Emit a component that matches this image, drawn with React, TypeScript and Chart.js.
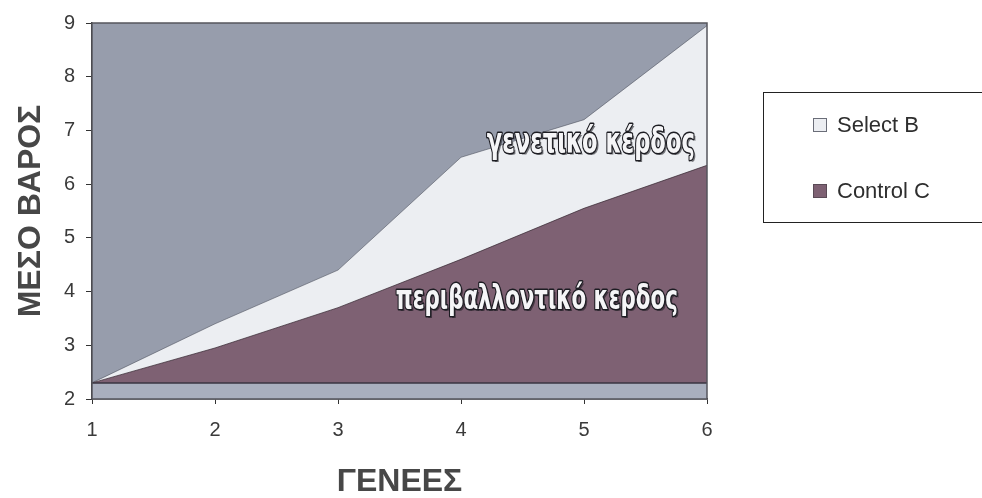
import React, { useEffect, useRef } from "react";
import { Chart, registerables } from "chart.js";

Chart.register(...registerables);

// ---- data ----
const generations = [1, 2, 3, 4, 5, 6];
const selectB = [2.3, 3.4, 4.4, 6.5, 7.2, 8.95];
const controlC = [2.3, 2.95, 3.7, 4.6, 5.55, 6.35];
const baseline = 2.3;
const yMin = 2;
const yMax = 9;
const xMin = 1;
const xMax = 6;
const seriesLabels = ["Select B", "Control C"];
const yTitle = "ΜΕΣΟ ΒΑΡΟΣ";
const xTitle = "ΓΕΝΕΕΣ";
const annotationTexts = ["γενετικό κέρδος", "περιβαλλοντικό κερδος"];

// ---- styles ----
const BG = "#979dac";
const STRIP = "#a9afbe";
const SELECT_COLOR = "#eceef2";
const CONTROL_COLOR = "#7e6173";
const AXIS_COLOR = "#333333";
const TEXT_COLOR = "#3a3a3a";
const TITLE_COLOR = "#474747";
const FONT = '"Liberation Sans", Arial, sans-serif';
const ANN_FONT = '"DejaVu Sans Condensed", "DejaVu Sans", sans-serif';

function drawOutlinedText(
  ctx: CanvasRenderingContext2D,
  text: string,
  left: number,
  baselineY: number,
  size: number,
  targetWidth: number
) {
  ctx.save();
  ctx.font = `bold ${size}px ${ANN_FONT}`;
  const w = ctx.measureText(text).width;
  const sx = targetWidth / w;
  ctx.translate(left, baselineY);
  ctx.scale(sx, 1);
  ctx.textAlign = "left";
  ctx.textBaseline = "alphabetic";
  ctx.lineJoin = "round";
  // shadow
  ctx.fillStyle = "rgba(20,20,25,0.55)";
  ctx.fillText(text, 2 / sx, 2);
  ctx.strokeStyle = "#1c1c22";
  ctx.lineWidth = 3;
  ctx.strokeText(text, 0, 0);
  ctx.fillStyle = "#f5f5f7";
  ctx.fillText(text, 0, 0);
  ctx.restore();
}

const customPlugin = {
  id: "customDraw",
  beforeDatasetsDraw(chart: any) {
    const { ctx, chartArea, scales } = chart;
    const { left, right, top, bottom } = chartArea;
    ctx.save();
    ctx.fillStyle = BG;
    ctx.fillRect(left, top, right - left, bottom - top);
    const yb = scales.y.getPixelForValue(baseline);
    const y0 = scales.y.getPixelForValue(yMin);
    ctx.fillStyle = STRIP;
    ctx.fillRect(left, yb, right - left, y0 - yb);
    ctx.restore();
  },
  afterDatasetsDraw(chart: any) {
    const { ctx, chartArea, scales } = chart;
    const { left, right, top, bottom } = chartArea;
    const xs = scales.x;
    const ys = scales.y;
    ctx.save();
    // baseline line
    const yb = ys.getPixelForValue(baseline);
    ctx.strokeStyle = "#3a3540";
    ctx.lineWidth = 1.5;
    ctx.beginPath();
    ctx.moveTo(left, yb);
    ctx.lineTo(right, yb);
    ctx.stroke();
    // frame
    ctx.strokeStyle = "#55555c";
    ctx.lineWidth = 1.5;
    ctx.strokeRect(left, top, right - left, bottom - top);

    // annotations
    drawOutlinedText(
      ctx,
      annotationTexts[0],
      xs.getPixelForValue(4.21),
      ys.getPixelForValue(6.58),
      36,
      208
    );
    drawOutlinedText(
      ctx,
      annotationTexts[1],
      xs.getPixelForValue(3.47),
      ys.getPixelForValue(3.67),
      33,
      282
    );
    ctx.restore();
  },
  afterDraw(chart: any) {
    const { ctx, chartArea } = chart;
    const { left, right, top, bottom } = chartArea;
    ctx.save();
    // axis titles
    ctx.fillStyle = TITLE_COLOR;
    ctx.font = `bold 32px ${FONT}`;
    ctx.textAlign = "center";
    ctx.textBaseline = "middle";
    ctx.save();
    ctx.translate(30, (top + bottom) / 2);
    ctx.rotate(-Math.PI / 2);
    ctx.fillText(yTitle, 0, 1);
    ctx.restore();
    ctx.fillText(xTitle, (left + right) / 2, bottom + 83);

    // legend box
    const lx = right + 56;
    const ly = top + 69;
    ctx.strokeStyle = "#222";
    ctx.lineWidth = 1;
    ctx.strokeRect(lx + 0.5, ly + 0.5, 400, 130);
    const items = chart.data.datasets.map((d: any) => ({
      label: d.label,
      color: d.backgroundColor,
    }));
    ctx.font = `22px ${FONT}`;
    ctx.textAlign = "left";
    ctx.textBaseline = "middle";
    items.forEach((it: any, i: number) => {
      const cy = ly + 33 + i * 66;
      const mx = lx + 50;
      ctx.fillStyle = it.color;
      ctx.fillRect(mx, cy - 7, 14, 14);
      ctx.strokeStyle = i === 0 ? "#6a6d78" : "#5a4a56";
      ctx.lineWidth = 1;
      ctx.strokeRect(mx + 0.5, cy - 6.5, 13, 13);
      ctx.fillStyle = "#2e2e2e";
      ctx.fillText(it.label, mx + 24, cy + 1);
    });
    ctx.restore();
  },
};

export default function App() {
  const canvasRef = useRef<HTMLCanvasElement | null>(null);

  useEffect(() => {
    if (!canvasRef.current) return;
    const chart = new Chart(canvasRef.current, {
      type: "line",
      data: {
        datasets: [
          {
            label: seriesLabels[0],
            data: generations.map((g, i) => ({ x: g, y: selectB[i] })),
            backgroundColor: SELECT_COLOR,
            borderColor: "rgba(70,72,85,0.55)",
            borderWidth: 1,
            pointRadius: 0,
            tension: 0,
            fill: { value: baseline },
            order: 2,
          },
          {
            label: seriesLabels[1],
            data: generations.map((g, i) => ({ x: g, y: controlC[i] })),
            backgroundColor: CONTROL_COLOR,
            borderColor: "rgba(50,35,45,0.7)",
            borderWidth: 1,
            pointRadius: 0,
            tension: 0,
            fill: { value: baseline },
            order: 1,
          },
        ],
      },
      options: {
        responsive: false,
        animation: false,
        layout: { padding: { top: 18, right: 275, left: 0, bottom: 0 } },
        plugins: {
          legend: { display: false },
          tooltip: { enabled: false },
        },
        scales: {
          x: {
            type: "linear",
            min: xMin,
            max: xMax,
            ticks: {
              stepSize: 1,
              color: TEXT_COLOR,
              font: { size: 20, family: FONT },
              padding: 14,
            },
            grid: {
              drawOnChartArea: false,
              drawTicks: true,
              tickLength: 5,
              color: AXIS_COLOR,
            },
            border: { color: AXIS_COLOR, width: 1.5 },
            afterFit(scale: any) {
              scale.height = 99;
            },
          },
          y: {
            type: "linear",
            min: yMin,
            max: yMax,
            ticks: {
              stepSize: 1,
              color: TEXT_COLOR,
              font: { size: 20, family: FONT },
              padding: 11,
            },
            grid: {
              drawOnChartArea: false,
              drawTicks: true,
              tickLength: 6,
              color: AXIS_COLOR,
            },
            border: { color: AXIS_COLOR, width: 1.5 },
            afterFit(scale: any) {
              scale.width = 92;
            },
          },
        },
      } as any,
      plugins: [customPlugin],
    });
    return () => chart.destroy();
  }, []);

  return (
    <div style={{ position: "fixed", left: 0, top: 0, width: 982, height: 498, background: "#fff" }}>
      <canvas ref={canvasRef} width={982} height={498} />
    </div>
  );
}
